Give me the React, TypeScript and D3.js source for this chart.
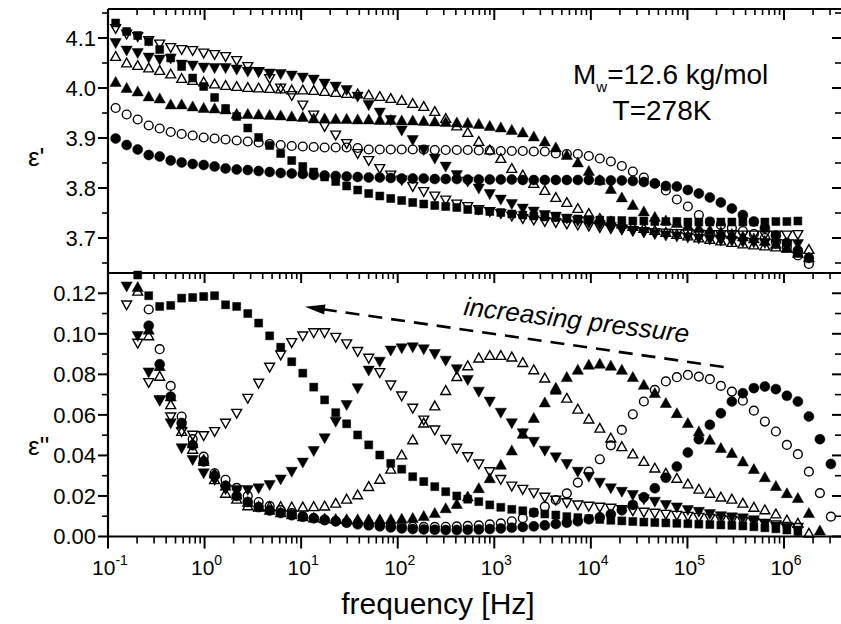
import React from 'react';
import * as d3 from 'd3';

// measurement frequencies (Hz)
const FREQ = [0.12, 0.156, 0.203, 0.264, 0.343, 0.446, 0.579, 0.753, 0.979, 1.27,
  1.65, 2.15, 2.80, 3.63, 4.72, 6.14, 7.99, 10.4, 13.5, 17.5,
  22.8, 29.6, 38.5, 50.1, 65.2, 84.7, 110, 143, 186, 242,
  314, 409, 531, 691, 898, 1168, 1518, 1973, 2565, 3335,
  4335, 5636, 7327, 9525, 12380, 16100, 20930, 27200, 35370, 45980,
  59770, 77700, 101000, 131300, 170700, 221900, 288500, 375000, 487500, 633800,
  823900, 1071000, 1392000, 1810000, 2353000, 3059000];

// epsilon' (upper panel)
const E1_SQUARE = [4.130, 4.113, 4.105, 4.093, 4.077, 4.060, 4.043, 4.020, 4.003, 3.981,
  3.959, 3.943, 3.920, 3.901, 3.885, 3.869, 3.855, 3.843, 3.832, 3.822,
  3.813, 3.804, 3.796, 3.789, 3.784, 3.779, 3.775, 3.771, 3.768, 3.765,
  3.763, 3.761, 3.757, 3.755, 3.753, 3.751, 3.748, 3.746, 3.744, 3.742,
  3.741, 3.739, 3.738, 3.737, 3.736, 3.735, 3.735, 3.734, 3.734, 3.733,
  3.733, 3.733, 3.732, 3.732, 3.732, 3.732, 3.732, 3.732, 3.732, 3.732,
  3.733, 3.733, 3.734, null, null, null];
const E1_DOWN_OPEN = [4.119, 4.108, 4.103, 4.095, 4.088, 4.081, 4.077, 4.075, 4.070, 4.067,
  4.063, 4.055, 4.043, 4.033, 4.019, 4.000, 3.985, 3.966, 3.946, 3.923,
  3.906, 3.889, 3.869, 3.855, 3.839, 3.826, 3.816, 3.803, 3.793, 3.784,
  3.776, 3.768, 3.763, 3.757, 3.753, 3.749, 3.744, 3.739, 3.736, 3.733,
  3.731, 3.728, 3.726, 3.724, 3.721, 3.719, 3.717, 3.715, 3.713, 3.711,
  3.710, 3.709, 3.708, 3.708, 3.707, 3.707, 3.707, 3.706, 3.706, 3.706,
  3.706, 3.706, 3.707, null, null, null];
const E1_DOWN_FILL = [4.090, 4.075, 4.070, 4.061, 4.057, 4.059, 4.047, 4.045, 4.041, 4.040,
  4.040, 4.037, 4.033, 4.032, 4.029, 4.028, 4.025, 4.021, 4.017, 4.009,
  4.003, 3.996, 3.983, 3.966, 3.951, 3.936, 3.915, 3.896, 3.876, 3.859,
  3.843, 3.826, 3.813, 3.799, 3.788, 3.777, 3.768, 3.759, 3.753, 3.746,
  3.743, 3.739, 3.734, 3.730, 3.726, 3.722, 3.718, 3.714, 3.711, 3.708,
  3.705, 3.703, 3.701, 3.699, 3.697, 3.695, 3.694, 3.692, 3.691, 3.690,
  3.689, 3.688, 3.688, null, null, null];
const E1_UP_OPEN = [4.063, 4.050, 4.045, 4.040, 4.035, 4.028, 4.019, 4.015, 4.012, 4.008,
  4.005, 4.003, 4.001, 4.000, 3.999, 3.998, 3.996, 3.996, 3.995, 3.993,
  3.991, 3.989, 3.988, 3.986, 3.983, 3.979, 3.975, 3.969, 3.963, 3.953,
  3.939, 3.924, 3.911, 3.893, 3.876, 3.859, 3.839, 3.826, 3.809, 3.795,
  3.781, 3.771, 3.759, 3.749, 3.739, 3.733, 3.728, 3.723, 3.719, 3.715,
  3.711, 3.707, 3.704, 3.700, 3.697, 3.694, 3.691, 3.688, 3.686, 3.684,
  3.682, 3.680, 3.678, 3.677, null, null];
const E1_UP_FILL = [4.012, 4.000, 3.993, 3.983, 3.979, 3.967, 3.967, 3.963, 3.960, 3.959,
  3.957, 3.948, 3.948, 3.947, 3.946, 3.945, 3.943, 3.942, 3.939, 3.939,
  3.938, 3.938, 3.937, 3.937, 3.936, 3.936, 3.935, 3.935, 3.934, 3.933,
  3.932, 3.931, 3.930, 3.928, 3.924, 3.921, 3.916, 3.911, 3.903, 3.893,
  3.881, 3.866, 3.851, 3.834, 3.816, 3.798, 3.781, 3.766, 3.753, 3.742,
  3.735, 3.730, 3.725, 3.720, 3.716, 3.712, 3.708, 3.703, 3.699, 3.694,
  3.688, 3.680, 3.670, 3.661, null, null];
const E1_CIRC_OPEN = [3.960, 3.947, 3.937, 3.925, 3.919, 3.912, 3.908, 3.905, 3.901, 3.899,
  3.897, 3.895, 3.893, 3.891, 3.888, 3.886, 3.884, 3.883, 3.882, 3.881,
  3.881, 3.881, 3.880, 3.877, 3.877, 3.877, 3.877, 3.877, 3.877, 3.876,
  3.876, 3.876, 3.876, 3.875, 3.875, 3.874, 3.874, 3.874, 3.873, 3.873,
  3.869, 3.868, 3.868, 3.864, 3.859, 3.853, 3.844, 3.833, 3.821, 3.809,
  3.795, 3.777, 3.763, 3.746, 3.733, 3.726, 3.720, 3.714, 3.708, 3.700,
  3.692, 3.682, 3.665, 3.648, null, null];
const E1_CIRC_FILL = [3.899, 3.886, 3.877, 3.866, 3.863, 3.855, 3.851, 3.848, 3.846, 3.843,
  3.839, 3.837, 3.836, 3.834, 3.832, 3.830, 3.829, 3.828, 3.826, 3.825,
  3.824, 3.823, 3.822, 3.821, 3.821, 3.820, 3.819, 3.819, 3.819, 3.818,
  3.818, 3.818, 3.817, 3.817, 3.817, 3.817, 3.817, 3.816, 3.816, 3.816,
  3.816, 3.816, 3.816, 3.816, 3.815, 3.815, 3.815, 3.814, 3.812, 3.809,
  3.804, 3.803, 3.796, 3.789, 3.781, 3.771, 3.759, 3.746, 3.733, 3.720,
  3.705, 3.690, 3.675, 3.660, null, null];

// epsilon'' (lower panel)
const E2_SQUARE = [null, null, 0.129, 0.1188, 0.1135, 0.114, 0.1176, 0.1179, 0.1184, 0.1188,
  0.1143, 0.1135, 0.110, 0.1053, 0.099, 0.0934, 0.0862, 0.0806, 0.0737, 0.0674,
  0.0611, 0.0556, 0.0501, 0.0452, 0.0402, 0.0361, 0.0332, 0.0295, 0.0271, 0.0246,
  0.0221, 0.020, 0.0184, 0.0172, 0.0156, 0.0144, 0.0134, 0.0127, 0.0118, 0.0111,
  0.0106, 0.0098, 0.0093, 0.0088, 0.0084, 0.008, 0.0077, 0.0074, 0.0071, 0.0069,
  0.0067, 0.0065, 0.0063, 0.0061, 0.0059, 0.0057, 0.0055, 0.0052, 0.0048, 0.0043,
  0.0038, 0.0032, 0.0025, null, null, null];
const E2_DOWN_OPEN = [null, 0.1143, 0.0954, 0.076, 0.0674, 0.059, 0.0518, 0.050, 0.0498, 0.0518,
  0.0559, 0.0608, 0.0682, 0.0757, 0.0836, 0.0896, 0.0957, 0.099, 0.1006, 0.1006,
  0.0983, 0.0951, 0.0913, 0.088, 0.0809, 0.0748, 0.0694, 0.0633, 0.0575, 0.0526,
  0.048, 0.0436, 0.0394, 0.0358, 0.032, 0.0282, 0.0249, 0.0233, 0.0216, 0.0194,
  0.018, 0.0167, 0.0156, 0.015, 0.0145, 0.014, 0.0133, 0.0127, 0.012, 0.0115,
  0.011, 0.0105, 0.010, 0.0095, 0.009, 0.0085, 0.008, 0.0075, 0.007, 0.0064,
  0.0058, 0.005, 0.0045, null, null, null];
const E2_DOWN_FILL = [null, 0.1234, 0.099, 0.081, 0.067, 0.0559, 0.0436, 0.0378, 0.0312, 0.0279,
  0.0233, 0.023, 0.023, 0.0238, 0.0254, 0.0282, 0.032, 0.0365, 0.0422, 0.0485,
  0.0567, 0.0649, 0.0732, 0.0819, 0.0863, 0.0918, 0.0929, 0.0934, 0.0924, 0.0901,
  0.0868, 0.0826, 0.0773, 0.0715, 0.0666, 0.0611, 0.0559, 0.051, 0.0468, 0.0424,
  0.0391, 0.0358, 0.032, 0.0295, 0.0266, 0.0238, 0.0221, 0.0205, 0.0184, 0.0172,
  0.0156, 0.0144, 0.0131, 0.0122, 0.0111, 0.0101, 0.0095, 0.009, 0.0081, 0.0065,
  0.005, 0.004, 0.003, null, null, null];
const E2_UP_OPEN = [null, null, 0.121, 0.099, 0.079, 0.065, 0.0518, 0.043, 0.037, 0.028,
  0.0213, 0.0184, 0.0151, 0.0147, 0.0147, 0.0147, 0.0145, 0.0145, 0.0147, 0.015,
  0.0164, 0.0184, 0.0205, 0.0246, 0.0282, 0.0332, 0.0402, 0.0477, 0.0559, 0.0644,
  0.072, 0.0789, 0.0842, 0.088, 0.0893, 0.0893, 0.0885, 0.0858, 0.0822, 0.0781,
  0.0732, 0.0682, 0.0628, 0.0579, 0.0534, 0.0485, 0.0443, 0.0407, 0.037, 0.0337,
  0.0312, 0.0287, 0.0259, 0.0233, 0.0213, 0.0194, 0.0184, 0.0164, 0.0144, 0.0131,
  0.0111, 0.0081, 0.0065, 0.0016, null, null];
const E2_UP_FILL = [null, null, 0.123, 0.102, 0.084, 0.069, 0.0553, 0.046, 0.038, 0.031,
  0.025, 0.0205, 0.017, 0.0145, 0.013, 0.0118, 0.0108, 0.0098, 0.0092, 0.0088,
  0.0086, 0.0085, 0.0084, 0.0084, 0.0084, 0.0085, 0.0087, 0.0091, 0.0101, 0.0115,
  0.0139, 0.016, 0.0197, 0.0238, 0.0287, 0.0353, 0.0424, 0.0506, 0.0584, 0.0661,
  0.0723, 0.0786, 0.0822, 0.0847, 0.0852, 0.0842, 0.0822, 0.0786, 0.0748, 0.0707,
  0.0658, 0.0608, 0.0559, 0.0518, 0.0477, 0.0436, 0.0411, 0.037, 0.0332, 0.0292,
  0.0249, 0.0213, 0.0189, 0.0115, 0.0029, null];
const E2_CIRC_OPEN = [null, null, null, 0.112, 0.0924, 0.0743, 0.0592, 0.048, 0.0394, 0.0312,
  0.028, 0.024, 0.020, 0.017, 0.015, 0.013, 0.0115, 0.010, 0.009, 0.008,
  0.0075, 0.007, 0.0065, 0.006, 0.0057, 0.0052, 0.005, 0.0048, 0.0047, 0.0047,
  0.0048, 0.005, 0.0052, 0.0055, 0.006, 0.0065, 0.0075, 0.009, 0.0118, 0.0147,
  0.018, 0.0213, 0.0266, 0.032, 0.0381, 0.045, 0.0526, 0.0603, 0.0666, 0.0723,
  0.0765, 0.0786, 0.0797, 0.0789, 0.0776, 0.0743, 0.0715, 0.067, 0.0621, 0.0567,
  0.0518, 0.0452, 0.0406, 0.032, 0.0214, 0.0098];
const E2_CIRC_FILL = [null, null, null, 0.104, 0.085, 0.069, 0.056, 0.045, 0.037, 0.030,
  0.025, 0.020, 0.017, 0.0145, 0.0128, 0.0116, 0.0105, 0.0097, 0.009, 0.0083,
  0.0075, 0.0068, 0.006, 0.0055, 0.005, 0.0045, 0.004, 0.0037, 0.0035, 0.0033,
  0.0032, 0.0032, 0.0033, 0.0035, 0.0037, 0.004, 0.0043, 0.0047, 0.005, 0.0055,
  0.0062, 0.0068, 0.0075, 0.0085, 0.0095, 0.011, 0.013, 0.0156, 0.0194, 0.0238,
  0.029, 0.0345, 0.0414, 0.048, 0.0551, 0.0608, 0.0666, 0.0707, 0.0732, 0.074,
  0.0727, 0.0694, 0.0666, 0.0592, 0.048, 0.0358];

const UPPER_TICKS = [3.7, 3.8, 3.9, 4.0, 4.1];
const UPPER_LABELS = ['3.7', '3.8', '3.9', '4.0', '4.1'];
const UPPER_MINOR = [3.65, 3.75, 3.85, 3.95, 4.05, 4.15];
const LOWER_TICKS = [0, 0.02, 0.04, 0.06, 0.08, 0.10, 0.12];
const LOWER_LABELS = ['0.00', '0.02', '0.04', '0.06', '0.08', '0.10', '0.12'];
const LOWER_MINOR = [0.01, 0.03, 0.05, 0.07, 0.09, 0.11];
const DECADES = [-1, 0, 1, 2, 3, 4, 5, 6];

type Shape = 'square' | 'down' | 'up' | 'circle';
const SERIES: { shape: Shape; filled: boolean; e1: (number | null)[]; e2: (number | null)[] }[] = [
  { shape: 'square', filled: true, e1: E1_SQUARE, e2: E2_SQUARE },
  { shape: 'down', filled: false, e1: E1_DOWN_OPEN, e2: E2_DOWN_OPEN },
  { shape: 'down', filled: true, e1: E1_DOWN_FILL, e2: E2_DOWN_FILL },
  { shape: 'up', filled: false, e1: E1_UP_OPEN, e2: E2_UP_OPEN },
  { shape: 'up', filled: true, e1: E1_UP_FILL, e2: E2_UP_FILL },
  { shape: 'circle', filled: false, e1: E1_CIRC_OPEN, e2: E2_CIRC_OPEN },
  { shape: 'circle', filled: true, e1: E1_CIRC_FILL, e2: E2_CIRC_FILL },
];

function shapePath(shape: Shape, filled: boolean): string {
  const k = filled ? 1 : 0.88;
  if (shape === 'square') return `M${-4 * k},${-4 * k}h${8 * k}v${8 * k}h${-8 * k}z`;
  if (shape === 'up') return `M0,${-5.6 * k}L${5.6 * k},${4.4 * k}L${-5.6 * k},${4.4 * k}Z`;
  if (shape === 'down') return `M0,${5.6 * k}L${5.6 * k},${-4.4 * k}L${-5.6 * k},${-4.4 * k}Z`;
  const r = filled ? 5 : 4.4;
  return `M${r},0A${r},${r} 0 1,1 ${-r},0A${r},${r} 0 1,1 ${r},0Z`;
}

const FONT = "'Liberation Sans', Arial, Helvetica, sans-serif";

export default function App() {
  const L = 108, R = 841, T = 9, M = 273, B = 536.5;
  const x = d3.scaleLog().domain([0.1, 1e6]).range([108, 784]);
  const y1 = d3.scaleLinear().domain([3.63, 4.158]).range([M, T]);
  const y2 = d3.scaleLinear().domain([0, 0.13]).range([B, M]);

  const minorX: number[] = [];
  DECADES.forEach((e) => {
    for (let m = 2; m <= 9; m++) {
      const v = m * Math.pow(10, e);
      if (x(v) < R) minorX.push(v);
    }
  });
  const majorX = DECADES.map((e) => Math.pow(10, e));

  const xTicksAt = (yy: number, big: number, small: number, key: string) => (
    <g key={key}>
      {majorX.map((v, i) => (
        <line key={'M' + i} x1={x(v)} x2={x(v)} y1={yy} y2={yy + big} stroke="#000" strokeWidth={2} />
      ))}
      {minorX.map((v, i) => (
        <line key={'m' + i} x1={x(v)} x2={x(v)} y1={yy} y2={yy + small} stroke="#000" strokeWidth={1.6} />
      ))}
    </g>
  );

  const yTicks = (scale: d3.ScaleLinear<number, number>, major: number[], minor: number[], key: string) => (
    <g key={key}>
      {major.map((v, i) => (
        <g key={'M' + i}>
          <line x1={L - 10} x2={L} y1={scale(v)} y2={scale(v)} stroke="#000" strokeWidth={2} />
          <line x1={832} x2={R} y1={scale(v)} y2={scale(v)} stroke="#000" strokeWidth={2} />
        </g>
      ))}
      {minor.map((v, i) => (
        <g key={'m' + i}>
          <line x1={L - 6} x2={L} y1={scale(v)} y2={scale(v)} stroke="#000" strokeWidth={1.6} />
          <line x1={835} x2={R} y1={scale(v)} y2={scale(v)} stroke="#000" strokeWidth={1.6} />
        </g>
      ))}
    </g>
  );

  const markers = (panel: 'e1' | 'e2', scale: d3.ScaleLinear<number, number>) =>
    SERIES.map((s, si) => (
      <g key={panel + si}>
        {FREQ.map((f, i) => {
          const v = s[panel][i];
          if (v === null || v === undefined) return null;
          return (
            <path
              key={i}
              transform={`translate(${x(f)},${scale(v)})`}
              d={shapePath(s.shape, s.filled)}
              fill={s.filled ? '#000' : 'none'}
              stroke="#000"
              strokeWidth={s.filled ? 0.5 : 1.4}
            />
          );
        })}
      </g>
    ));

  // arrow geometry
  const ax0 = 305, ay0 = 306.7, ax1 = 731, ay1 = 368;
  const ang = (Math.atan2(ay1 - ay0, ax1 - ax0) * 180) / Math.PI;
  const alen = Math.hypot(ax1 - ax0, ay1 - ay0);

  return (
    <svg width={841} height={624} style={{ position: 'absolute', left: 0, top: 0, background: '#fff' }} fontFamily={FONT}>
      <rect x={0} y={0} width={841} height={624} fill="#fff" />

      {markers('e1', y1)}
      {markers('e2', y2)}

      {/* frame (right edge falls outside the picture) */}
      <line x1={L} x2={L} y1={T} y2={B} stroke="#000" strokeWidth={2.2} />
      <line x1={L} x2={R} y1={T} y2={T} stroke="#000" strokeWidth={2.2} />
      <line x1={L} x2={R} y1={M} y2={M} stroke="#000" strokeWidth={2.2} />
      <line x1={L} x2={R} y1={B} y2={B} stroke="#000" strokeWidth={2.2} />

      {xTicksAt(T, 11, 6, 'xt')}
      {xTicksAt(M, 10, 6, 'xm')}
      {xTicksAt(B, 12, 7, 'xb')}
      {yTicks(y1, UPPER_TICKS, UPPER_MINOR, 'y1')}
      {yTicks(y2, LOWER_TICKS, LOWER_MINOR, 'y2')}

      {UPPER_TICKS.map((v, i) => (
        <text key={'u' + i} x={96} y={y1(v)} dy="0.36em" textAnchor="end" fontSize={22}>
          {UPPER_LABELS[i]}
        </text>
      ))}
      {LOWER_TICKS.map((v, i) => (
        <text key={'l' + i} x={96} y={y2(v)} dy="0.36em" textAnchor="end" fontSize={22}>
          {LOWER_LABELS[i]}
        </text>
      ))}

      {DECADES.map((e) => (
        <text key={'d' + e} x={x(Math.pow(10, e)) + 2} y={575} textAnchor="middle" fontSize={21}>
          10
          <tspan fontSize={14} dy={-10}>
            {String(e)}
          </tspan>
        </text>
      ))}

      <text x={438} y={614} textAnchor="middle" fontSize={30}>
        frequency [Hz]
      </text>

      <text x={28} y={166} fontSize={26}>
        ε'
      </text>
      <text x={28} y={455} fontSize={26}>
        ε''
      </text>

      <text x={573} y={84} fontSize={28}>
        M<tspan fontSize={15} dy={8}>w</tspan>
        <tspan dy={-8}>=12.6 kg/mol</tspan>
      </text>
      <text x={662} y={120} fontSize={28} textAnchor="middle">
        T=278K
      </text>

      <text transform="translate(463,315) rotate(7)" fontSize={26} fontStyle="italic">
        increasing pressure
      </text>

      <g transform={`translate(${ax0},${ay0}) rotate(${ang})`}>
        <path d="M0,0L20,-5L20,5Z" fill="#000" />
        <line x1={18} x2={alen} y1={0} y2={0} stroke="#000" strokeWidth={2.6} strokeDasharray="14 9" />
      </g>
    </svg>
  );
}
